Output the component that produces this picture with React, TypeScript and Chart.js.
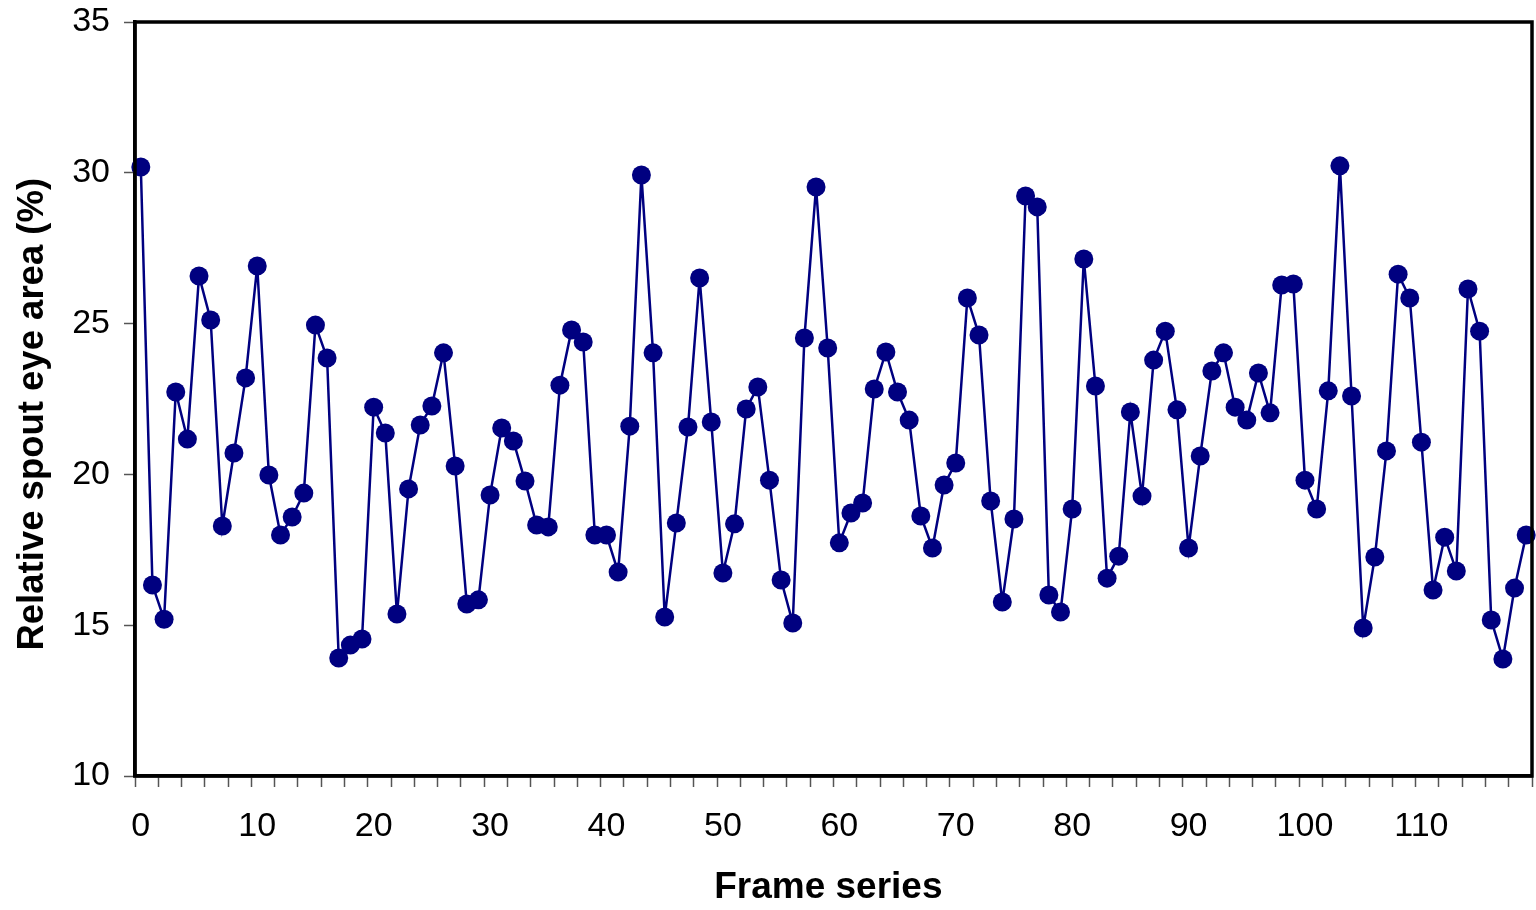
import React, { useEffect, useRef } from "react";
import { Chart, registerables } from "chart.js";

Chart.register(...registerables);

const frameLabels: string[] = Array.from({ length: 120 }, (_, i) => String(i));

const spoutEyeArea: number[] = [
  30.19, 16.33, 15.2, 22.73, 21.17, 26.58, 25.12, 18.29, 20.71, 23.2,
  26.91, 19.98, 17.99, 18.59, 19.38, 24.95, 23.86, 13.91, 14.34, 14.54,
  22.23, 21.37, 15.37, 19.52, 21.64, 22.27, 24.03, 20.28, 15.7, 15.84,
  19.32, 21.54, 21.11, 19.78, 18.32, 18.26, 22.96, 24.79, 24.39, 17.99,
  17.99, 16.76, 21.6, 29.93, 24.03, 15.27, 18.39, 21.57, 26.51, 21.74,
  16.73, 18.36, 22.17, 22.9, 19.81, 16.5, 15.07, 24.52, 29.53, 24.19,
  17.73, 18.72, 19.05, 22.83, 24.06, 22.73, 21.8, 18.62, 17.56, 19.65,
  20.38, 25.85, 24.62, 19.12, 15.77, 18.52, 29.23, 28.87, 16.0, 15.44,
  18.85, 27.14, 22.93, 16.56, 17.29, 22.07, 19.28, 23.79, 24.75, 22.14,
  17.56, 20.61, 23.43, 24.03, 22.23, 21.8, 23.36, 22.04, 26.28, 26.31,
  19.81, 18.85, 22.77, 30.23, 22.6, 14.91, 17.26, 20.78, 26.64, 25.85,
  21.07, 16.17, 17.92, 16.8, 26.15, 24.75, 15.17, 13.88, 16.23, 17.99,
];

const yMin = 10;
const yMax = 35;
const yStep = 5;
const xLabelEvery = 10;
const xTickEvery = 2;

const FONT = "'Liberation Sans', Arial, Helvetica, sans-serif";

const framePlugin = {
  id: "frame",
  afterDraw(chart: any) {
    const { ctx, chartArea } = chart;
    ctx.save();
    ctx.strokeStyle = "#000";
    ctx.lineWidth = 3.5;
    ctx.strokeRect(
      chartArea.left,
      chartArea.top,
      chartArea.right - chartArea.left,
      chartArea.bottom - chartArea.top
    );
    ctx.restore();
  },
};

export default function App() {
  const ref = useRef<HTMLCanvasElement | null>(null);

  useEffect(() => {
    if (!ref.current) return;
    const chart = new Chart(ref.current, {
      type: "line",
      data: {
        labels: frameLabels,
        datasets: [
          {
            data: spoutEyeArea,
            borderColor: "#000080",
            backgroundColor: "#000080",
            borderWidth: 2.5,
            pointRadius: 9.5,
            pointBorderWidth: 0,
            pointBackgroundColor: "#000080",
            tension: 0,
          },
        ],
      },
      options: {
        animation: false,
        responsive: false,
        layout: {
          autoPadding: false,
          padding: { top: 22, right: 4, left: 0, bottom: 0 },
        },
        plugins: {
          legend: { display: false },
          tooltip: { enabled: false },
        },
        scales: {
          x: {
            type: "category",
            offset: true,
            afterFit: (scale: any) => {
              scale.height = 134;
              scale.paddingLeft = 0;
              scale.paddingRight = 0;
            },
            grid: {
              offset: true,
              drawOnChartArea: false,
              drawTicks: true,
              tickLength: 11,
              tickWidth: 1.5,
              tickColor: (ctx: any) =>
                ctx.index === undefined || ctx.index % xTickEvery === 0
                  ? "#555"
                  : "rgba(0,0,0,0)",
            },
            border: { display: true, color: "#000", width: 3.5 },
            ticks: {
              autoSkip: false,
              maxRotation: 0,
              minRotation: 0,
              padding: 19,
              color: "#000",
              font: { family: FONT, size: 34 },
              callback: (_v: any, index: number) =>
                index % xLabelEvery === 0 ? frameLabels[index] : "",
            },
            title: {
              display: true,
              text: "Frame series ",
              color: "#000",
              font: { family: FONT, size: 37, weight: "bold" },
              padding: { top: 2, bottom: 0 },
            },
          },
          y: {
            min: yMin,
            max: yMax,
            afterFit: (scale: any) => {
              scale.width = 135;
              scale.paddingTop = 0;
              scale.paddingBottom = 0;
            },
            grid: {
              drawOnChartArea: false,
              drawTicks: true,
              tickLength: 11,
              tickWidth: 1.5,
              tickColor: "#555",
            },
            border: { display: true, color: "#000", width: 3.5 },
            ticks: {
              stepSize: yStep,
              padding: 14,
              color: "#000",
              font: { family: FONT, size: 34 },
            },
            title: {
              display: true,
              text: "Relative spout eye area (%)   ",
              color: "#000",
              font: { family: FONT, size: 36.5, weight: "bold" },
              padding: { top: 11, bottom: 0 },
            },
          },
        },
      },
      plugins: [framePlugin],
    });
    return () => chart.destroy();
  }, []);

  return (
    <canvas
      ref={ref}
      width={1536}
      height={910}
      style={{ position: "absolute", left: 0, top: 0, width: 1536, height: 910 }}
    />
  );
}
